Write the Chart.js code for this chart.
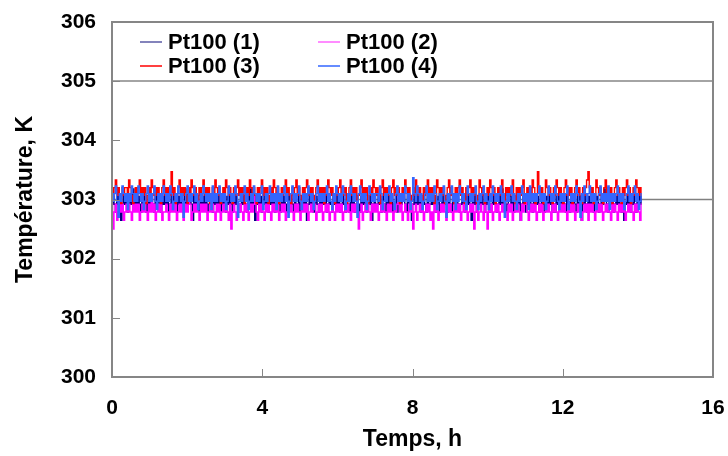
<!DOCTYPE html>
<html>
<head>
<meta charset="utf-8">
<script src="https://cdn.jsdelivr.net/npm/chart.js@4.4.1/dist/chart.umd.min.js"></script>
<style>
html,body{margin:0;padding:0;background:#fff;}
#wrap{width:728px;height:456px;position:relative;}
</style>
</head>
<body>
<div id="wrap"><canvas id="c" width="728" height="456"></canvas></div>
<script>
// ---- data ----
const seriesNames = ["Pt100 (1)", "Pt100 (2)", "Pt100 (3)", "Pt100 (4)"];
const startH = 0;
const stepH = 0.03534; // sampling interval, h (400 samples over ~14.1 h)
const xTicks = [0, 4, 8, 12, 16];
const yTicks = [300, 301, 302, 303, 304, 305, 306];
const setPointX = [0, 16];
const setPointY = [303, 303];

const pt100_1 = [
302.92,303.05,302.92,302.79,303.05,302.92,303.05,302.65,302.92,303.05,302.92,303.05,302.79,302.92,303.05,302.92,303.18,302.92,303.05,302.92,
303.05,302.92,302.79,303.05,302.92,303.05,302.79,302.92,303.05,302.92,303.05,302.92,302.79,303.05,302.92,303.05,302.92,302.79,303.05,302.92,
303.05,302.92,303.05,302.79,302.92,303.05,302.92,303.05,302.92,302.79,303.05,302.92,303.05,302.92,302.79,303.05,302.92,303.18,302.92,303.05,
302.92,302.65,303.05,302.92,303.05,302.92,302.79,303.05,302.92,303.05,302.92,303.05,302.79,302.92,303.05,302.92,302.79,303.05,302.92,303.05,
302.92,303.05,302.79,302.92,303.05,302.92,302.79,303.05,302.92,303.05,302.92,302.79,303.05,302.92,303.05,302.92,302.79,302.92,303.05,302.92,
303.05,302.92,302.79,303.05,302.92,303.18,302.92,303.05,302.65,302.92,303.05,302.92,303.05,302.79,302.92,303.05,302.92,303.05,302.79,302.92,
303.05,302.92,303.05,302.79,302.92,303.05,302.92,302.79,303.05,302.92,303.05,302.92,302.79,303.05,302.92,303.05,302.92,302.79,303.05,302.92,
302.92,303.05,302.79,302.92,303.05,302.92,303.05,302.65,302.92,303.05,302.92,303.05,302.79,302.92,303.05,302.92,302.79,303.05,302.92,303.05,
302.92,303.05,302.79,302.92,303.05,302.92,302.79,303.05,302.92,303.18,302.92,303.05,302.79,302.92,303.05,302.92,302.79,303.05,302.92,302.79,
303.05,302.92,303.05,302.79,302.92,303.05,302.92,302.79,303.05,302.92,303.05,302.92,302.79,303.05,302.92,303.05,302.65,302.92,303.05,302.92,
302.92,303.05,302.92,302.79,303.05,302.92,302.79,303.05,302.92,303.05,302.92,303.05,302.79,302.92,303.05,302.79,302.92,303.05,302.92,303.05,
303.05,302.92,302.79,303.05,302.92,303.05,302.65,302.92,303.05,302.92,303.18,302.92,303.05,302.79,302.92,303.05,302.92,302.79,303.05,302.92,
302.92,303.05,302.92,303.05,302.79,302.92,303.05,302.79,302.92,303.05,302.92,303.05,302.92,302.79,303.05,302.92,302.79,303.05,302.92,303.05,
303.05,302.92,302.79,302.92,303.05,302.92,302.79,303.05,302.92,303.05,302.92,302.65,303.05,302.92,303.05,302.79,302.92,303.05,302.92,303.05,
302.92,302.79,303.05,302.92,303.05,302.79,302.92,303.05,302.92,303.05,302.79,302.92,303.05,302.92,303.18,302.92,303.05,302.79,302.92,303.05,
303.05,302.92,303.05,302.79,302.92,303.05,302.92,303.05,302.65,302.92,303.05,302.92,302.79,303.05,302.92,303.05,302.92,302.79,303.05,302.92,
302.92,303.05,302.79,302.92,303.05,302.92,302.79,303.05,302.92,303.05,302.92,303.05,302.79,302.92,302.79,303.05,302.92,303.05,302.92,303.05,
303.05,302.92,302.79,303.05,302.92,302.79,303.05,302.92,303.05,302.92,302.79,303.05,302.92,303.05,302.65,302.92,303.05,302.92,302.79,303.05,
302.92,303.05,302.92,302.79,303.05,302.92,303.05,302.79,302.92,303.05,302.92,303.18,303.05,302.92,302.79,303.05,302.92,303.05,302.79,302.92,
303.05,302.92,303.05,302.92,302.79,303.05,302.65,302.92,303.05,302.92,303.05,302.79,302.92,303.05,302.92,302.79,303.05,302.92,303.05,302.92
];
const pt100_2 = [
302.92,302.5,302.79,302.92,302.65,302.79,302.92,302.79,302.92,302.65,302.79,302.92,302.79,302.92,302.79,302.65,302.92,302.79,302.92,302.79,
302.92,302.65,302.79,302.92,302.79,302.92,302.79,302.65,302.92,302.79,303.05,302.79,302.92,302.65,302.79,302.92,302.79,302.92,302.65,302.79,
302.79,302.92,302.79,302.65,302.92,302.79,302.92,302.79,302.92,302.65,302.79,302.92,302.79,302.92,302.65,302.79,302.92,302.79,303.05,302.92,
302.65,302.79,302.92,302.79,302.92,302.79,302.65,302.92,302.79,302.92,302.79,302.92,302.65,302.79,302.92,302.79,302.92,302.79,302.65,302.92,
302.79,302.92,302.65,302.79,302.92,302.79,302.92,302.79,302.65,302.92,302.5,302.79,302.92,302.79,302.65,302.92,302.79,302.92,302.79,302.65,
302.92,302.79,302.92,302.65,302.79,302.92,302.79,302.92,303.05,302.79,302.65,302.92,302.79,302.92,302.79,302.65,302.92,302.79,302.92,302.79,
302.65,302.92,302.79,302.92,302.79,302.92,302.65,302.79,302.92,302.79,302.92,302.65,302.79,302.92,302.79,302.92,302.79,302.65,302.92,302.79,
302.92,302.79,302.65,302.92,302.79,302.92,302.79,302.92,302.65,302.79,302.92,302.79,303.05,302.92,302.65,302.79,302.92,302.79,302.92,302.65,
302.79,302.92,302.79,302.92,302.65,302.79,302.92,302.79,302.65,302.92,302.79,302.92,302.79,302.92,302.65,302.79,302.92,302.79,302.92,302.79,
302.65,302.92,302.79,302.92,302.79,302.92,302.5,302.79,302.92,302.65,302.79,302.92,302.79,302.92,302.79,302.65,302.92,302.79,302.92,302.79,
302.92,302.65,302.79,302.92,302.79,302.92,302.79,302.65,302.92,302.79,302.92,302.79,302.65,302.92,302.79,302.92,303.05,302.79,302.92,302.65,
302.79,302.92,302.79,302.65,302.92,302.79,302.92,302.5,302.79,302.92,302.65,302.79,302.92,302.79,302.92,302.65,302.79,302.92,302.79,302.92,
302.65,302.79,302.5,302.92,302.79,302.92,302.65,302.79,302.92,302.79,302.92,302.79,302.65,302.92,302.79,302.92,302.79,302.65,302.92,302.79,
302.92,302.79,302.92,302.65,302.79,302.92,302.79,302.92,302.65,302.79,302.92,302.79,302.92,302.5,302.79,302.92,302.65,302.79,302.92,302.79,
302.65,302.92,302.79,302.5,302.92,302.79,302.92,302.65,302.79,302.92,302.79,302.92,302.65,302.79,302.92,302.79,302.92,302.79,302.65,302.92,
302.79,302.92,302.65,302.79,302.92,302.79,302.92,302.79,302.65,302.92,302.79,302.92,303.05,302.79,302.65,302.92,302.79,302.92,302.79,302.92,
302.65,302.79,302.92,302.79,302.92,302.65,302.79,302.92,302.79,302.92,302.79,302.65,302.92,302.79,302.92,302.79,302.65,302.92,302.79,302.92,
302.79,302.92,302.79,302.65,302.92,302.79,302.92,302.79,302.92,302.65,302.79,302.92,302.79,302.92,302.65,302.79,302.92,302.79,302.92,302.65,
302.92,302.79,302.92,302.79,302.65,302.92,302.79,302.92,302.79,302.92,302.65,302.79,302.92,302.79,302.92,302.79,302.65,302.92,302.79,302.92,
302.79,302.65,302.92,302.79,302.92,302.79,302.92,302.65,302.79,302.92,302.79,302.92,302.79,302.65,302.92,302.79,302.92,302.79,302.65,302.92
];
const pt100_3 = [
303.2,303.07,303.2,303.33,303.07,303.2,303.07,302.93,303.2,303.07,303.2,303.2,303.07,303.33,303.2,303.07,302.93,303.07,303.2,303.07,
303.2,303.33,303.07,303.2,303.07,303.2,302.93,303.07,303.2,303.07,303.33,303.2,303.07,303.2,303.07,303.2,303.07,302.93,303.2,303.33,
303.07,303.2,303.07,303.2,303.07,303.47,303.07,303.2,302.93,303.07,303.2,303.33,303.07,303.2,303.07,303.2,303.07,302.93,303.2,303.07,
303.33,303.2,303.07,303.2,303.07,302.93,303.2,303.07,303.2,303.33,303.07,303.2,303.07,303.2,302.93,303.07,303.2,303.07,303.33,303.2,
303.07,303.2,302.93,303.07,303.2,303.07,303.33,303.2,303.07,303.2,303.07,302.93,303.2,303.07,303.2,303.33,303.07,303.2,303.07,303.2,
302.93,303.07,303.2,303.07,303.33,303.2,303.07,303.2,303.07,302.93,303.2,303.07,303.2,303.33,303.07,303.2,303.07,303.2,302.93,303.07,
303.2,303.07,303.33,303.2,303.07,303.2,302.93,303.07,303.2,303.07,303.2,303.33,303.07,303.2,303.07,302.93,303.2,303.07,303.2,303.33,
303.07,303.2,303.07,302.93,303.2,303.07,303.2,303.33,303.07,303.2,303.07,303.2,302.93,303.07,303.2,303.33,303.07,303.2,303.07,303.2,
302.93,303.2,303.07,303.33,303.2,303.07,303.2,303.07,302.93,303.2,303.07,303.2,303.33,303.07,303.2,303.07,303.2,302.93,303.07,303.2,
303.33,303.07,303.2,303.07,303.2,302.93,303.07,303.2,303.33,303.07,303.2,303.07,303.2,302.93,303.07,303.2,303.07,303.33,303.2,303.07,
303.2,303.07,302.93,303.2,303.33,303.07,303.2,303.07,303.2,303.07,302.93,303.2,303.33,303.07,303.2,303.07,303.2,302.93,303.07,303.2,
303.07,303.33,303.2,303.07,303.2,302.93,303.07,303.2,303.07,303.33,303.2,303.07,303.2,303.07,302.93,303.2,303.07,303.2,303.33,303.07,
303.2,303.07,303.2,302.93,303.07,303.33,303.2,303.07,303.2,303.07,303.2,302.93,303.07,303.2,303.33,303.07,303.2,303.07,302.93,303.2,
303.07,303.2,303.33,303.07,303.2,303.07,302.93,303.2,303.07,303.2,303.33,303.07,303.2,303.07,303.2,302.93,303.07,303.33,303.2,303.07,
303.2,302.93,303.07,303.2,303.07,303.33,303.2,303.07,303.2,302.93,303.07,303.2,303.07,303.2,303.33,303.07,302.93,303.2,303.07,303.2,
303.07,303.2,303.33,303.07,302.93,303.2,303.07,303.2,303.07,303.2,303.33,302.93,303.07,303.2,303.07,303.2,303.07,303.33,303.2,302.93,
303.07,303.47,303.2,303.07,303.2,302.93,303.07,303.33,303.2,303.07,303.2,303.07,302.93,303.2,303.07,303.33,303.2,303.07,303.2,303.07,
302.93,303.2,303.33,303.07,303.2,303.07,303.2,302.93,303.07,303.2,303.33,303.07,303.2,303.07,302.93,303.2,303.07,303.2,303.33,303.47,
303.2,303.07,303.2,302.93,303.07,303.33,303.2,303.07,303.2,303.07,302.93,303.2,303.33,303.07,303.2,303.07,303.2,302.93,303.07,303.2,
303.33,303.07,303.2,303.07,302.93,303.2,303.07,303.2,303.33,303.07,303.2,302.93,303.07,303.2,303.07,303.33,303.2,303.07,303.2,303.07
];
const pt100_4 = [
303.1,302.97,303.1,303.23,302.97,302.7,303.1,302.97,303.23,303.1,302.97,303.1,302.83,303.1,302.97,303.23,303.1,302.97,303.1,302.97,
303.23,303.1,302.97,303.1,302.83,302.97,303.1,303.23,302.97,303.1,302.97,303.1,303.23,302.97,302.83,303.1,302.97,303.1,302.97,303.23,
303.1,302.97,303.1,302.97,303.23,303.1,302.83,302.97,303.1,302.97,303.23,303.1,302.97,303.1,302.7,302.97,303.1,303.23,302.97,303.1,
302.97,303.1,303.23,302.97,303.1,302.83,302.97,303.1,302.97,303.23,303.1,302.97,303.1,302.97,303.1,302.83,303.23,302.97,303.1,302.97,
303.1,303.23,302.97,303.1,302.97,303.1,302.83,302.97,303.23,303.1,302.97,303.1,302.97,303.23,303.1,302.7,302.97,303.1,302.97,303.1,
303.23,302.97,303.1,302.83,302.97,303.1,302.97,303.23,303.1,302.97,303.1,302.97,303.1,303.23,302.83,302.97,303.1,302.97,303.1,303.23,
302.97,303.1,302.97,303.1,302.83,303.23,302.97,303.1,302.97,303.1,303.23,302.97,303.1,302.7,302.97,303.1,303.23,302.97,303.1,302.97,
303.1,303.23,302.97,302.83,303.1,302.97,303.1,302.97,303.23,303.1,302.97,303.1,302.83,302.97,303.1,303.23,302.97,303.1,302.97,303.1,
302.97,303.1,303.23,302.97,303.1,302.97,302.83,303.1,302.97,303.23,303.1,302.97,303.1,302.97,303.23,303.1,302.83,302.97,303.1,302.97,
303.23,303.1,302.97,303.1,302.97,302.7,303.1,303.23,302.97,303.1,302.97,303.1,302.83,302.97,303.23,303.1,302.97,303.1,302.97,303.1,
303.1,302.97,303.23,303.1,302.83,302.97,303.1,302.97,303.1,303.23,302.97,303.1,302.97,302.83,303.1,303.23,302.97,303.1,302.97,303.1,
302.97,303.23,303.1,302.97,303.1,302.83,302.97,303.37,303.1,302.97,303.23,303.1,302.97,303.1,302.83,302.97,303.1,303.23,302.97,303.1,
302.97,303.1,302.97,303.23,303.1,302.83,302.97,303.1,302.97,303.1,303.23,302.97,302.7,303.1,302.97,303.1,303.23,302.97,303.1,302.83,
303.1,302.97,303.23,303.1,302.97,303.1,302.97,302.83,303.23,303.1,302.97,303.1,302.97,303.1,303.23,302.97,302.83,303.1,302.97,303.1,
303.23,302.97,303.1,302.97,302.83,303.1,302.97,303.23,303.1,302.97,303.1,302.97,303.1,303.23,302.97,303.1,302.7,302.97,303.1,302.97,
303.1,303.23,302.97,303.1,302.97,302.83,303.1,302.97,303.1,303.23,302.97,303.1,302.97,303.1,302.83,303.23,302.97,303.1,302.97,303.1,
302.97,303.1,303.23,302.97,303.1,302.97,303.1,302.83,302.97,303.23,303.1,302.97,303.1,302.97,303.23,303.1,302.97,302.83,303.1,302.97,
303.1,302.97,303.1,303.23,302.83,302.97,303.1,302.97,303.1,302.97,303.23,303.1,302.97,302.7,303.1,302.97,303.23,303.1,302.97,303.1,
303.23,302.97,303.1,302.97,303.1,302.83,302.97,303.1,303.23,302.97,303.1,302.97,303.1,302.97,303.23,302.83,303.1,302.97,303.1,302.97,
303.1,303.23,302.97,303.1,302.97,303.1,302.83,302.97,303.1,303.23,302.97,303.1,302.97,303.1,303.23,302.97,303.1,302.83,302.97,303.1
];

// ---- styling ----
const colors = ["#000080", "#ff00ff", "#ff0000", "#3366ff"];
const legendColors = ["#5a5aa5", "#ff66ff", "#ff0000", "#3366ff"];
const FONT = "'Liberation Sans', Arial, Helvetica, sans-serif";
const frameColor = "#868686";

function toPoints(arr){
  return arr.map((v,i)=>({x: startH + i*stepH, y: v}));
}
const allSeries = [pt100_1, pt100_2, pt100_3, pt100_4];

const datasets = allSeries.map((arr,k)=>({
  label: seriesNames[k],
  data: toPoints(arr),
  borderColor: colors[k],
  backgroundColor: colors[k],
  borderWidth: 1.4,
  borderJoinStyle: 'miter',
  stepped: 'middle',
  pointRadius: 0,
  fill: false,
  order: 4 - k
}));
datasets.push({
  label: "ref",
  data: setPointX.map((x,i)=>({x, y: setPointY[i]})),
  borderColor: "#808080",
  borderWidth: 1.5,
  pointRadius: 0,
  fill: false,
  order: 10
});

const framePlugin = {
  id: 'frameLegend',
  afterDatasetsDraw(chart){
    const {ctx, chartArea:{left,top,right,bottom}, scales:{x,y}} = chart;
    ctx.save();
    // legend box
    const lbBottom = top + 59;
    ctx.fillStyle = '#ffffff';
    ctx.fillRect(left, top, right-left, lbBottom-top);
    ctx.strokeStyle = frameColor;
    ctx.lineWidth = 1.5;
    ctx.beginPath();
    ctx.moveTo(left, lbBottom); ctx.lineTo(right, lbBottom);
    ctx.stroke();
    // legend entries
    const cols = [left+28, left+206];
    const rows = [top+20, top+44];
    ctx.font = "bold 22px " + FONT;
    ctx.textBaseline = 'middle';
    ctx.textAlign = 'left';
    seriesNames.forEach((name,k)=>{
      const cx = cols[k%2], cy = rows[Math.floor(k/2)];
      ctx.strokeStyle = legendColors[k];
      ctx.lineWidth = 1.5;
      ctx.beginPath(); ctx.moveTo(cx, cy); ctx.lineTo(cx+22, cy); ctx.stroke();
      ctx.fillStyle = '#000';
      ctx.fillText(name, cx+28, cy+1);
    });
    // inward tick marks
    ctx.strokeStyle = frameColor;
    ctx.lineWidth = 1;
    yTicks.slice(1,-1).forEach(v=>{
      const py = Math.round(y.getPixelForValue(v))+0.5;
      ctx.beginPath(); ctx.moveTo(left, py); ctx.lineTo(left+8, py); ctx.stroke();
    });
    xTicks.slice(1,-1).forEach(v=>{
      const px = Math.round(x.getPixelForValue(v))+0.5;
      ctx.beginPath(); ctx.moveTo(px, bottom); ctx.lineTo(px, bottom-8); ctx.stroke();
    });
    // frame
    ctx.lineWidth = 2;
    ctx.strokeRect(left, top, right-left, bottom-top);
    ctx.restore();
  }
};

new Chart(document.getElementById('c'), {
  type: 'line',
  data: { datasets },
  options: {
    responsive: false,
    animation: false,
    events: [],
    layout: { padding: { left: 0, top: 22, right: 15, bottom: 0 } },
    plugins: { legend: { display: false }, tooltip: { enabled: false } },
    scales: {
      x: {
        type: 'linear', min: 0, max: 16,
        afterFit(s){ s.height = 79; s.paddingLeft = 0; s.paddingRight = 0; },
        afterBuildTicks(s){ s.ticks = xTicks.map(v=>({value:v})); },
        grid: { display: false, drawTicks: false },
        border: { display: false },
        ticks: { color: '#000', font: { family: FONT, size: 21, weight: 'bold' }, padding: 19, maxRotation: 0 },
        title: { display: true, text: 'Temps, h', color: '#000', font: { family: FONT, size: 23, weight: 'bold' }, padding: { top: 0, bottom: 3 } }
      },
      y: {
        type: 'linear', min: 300, max: 306,
        afterFit(s){ s.width = 112; s.paddingTop = 0; s.paddingBottom = 0; },
        afterBuildTicks(s){ s.ticks = yTicks.map(v=>({value:v})); },
        grid: { display: false, drawTicks: false },
        border: { display: false },
        ticks: { color: '#000', font: { family: FONT, size: 21, weight: 'bold' }, padding: 16 },
        title: { display: true, text: 'Température, K', color: '#000', font: { family: FONT, size: 23, weight: 'bold' }, padding: { top: 12, bottom: 0 } }
      }
    }
  },
  plugins: [framePlugin]
});
</script>
</body>
</html>
